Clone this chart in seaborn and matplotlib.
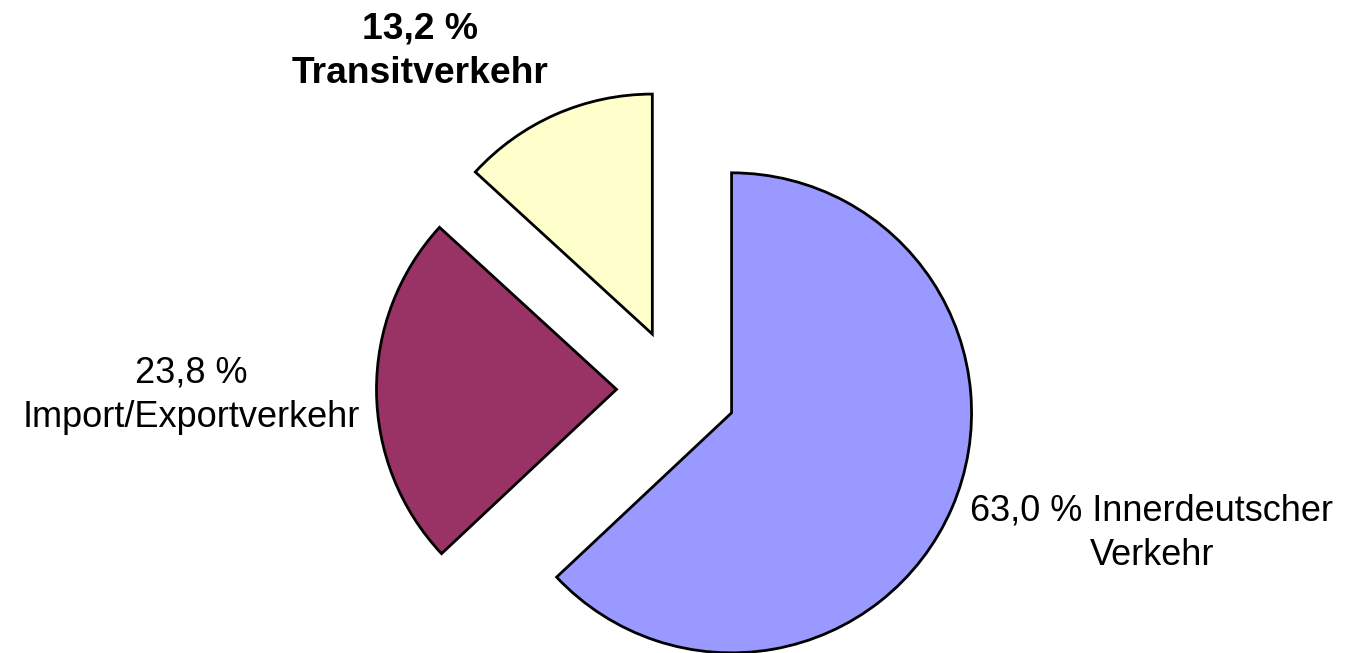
import matplotlib
matplotlib.use("Agg")
import matplotlib.pyplot as plt
import seaborn as sns

# shares of traffic (percent), clockwise from 12 o'clock
categories = ["Innerdeutscher Verkehr", "Import/Exportverkehr", "Transitverkehr"]
shares = [63.0, 23.8, 13.2]
colors = ["#9999FF", "#993366", "#FFFFCC"]
explode = [0.25, 0.25, 0.25]

label_texts = [
    "63,0 % Innerdeutscher\nVerkehr",
    "23,8 %\nImport/Exportverkehr",
    "13,2 %\nTransitverkehr",
]
label_weights = ["normal", "normal", "bold"]
label_sizes = [26, 26, 26.8]
# last-line baseline positions in figure pixels (x, y from top)
label_px = [(1152, 565), (191, 427), (420, 83)]

W, H = 1348, 653
R_PX = 240.0            # pie radius in pixels
CX, CY = 676.5, 389.0   # pie centre in pixels (from top)

sns.set_style("white")
plt.rcParams["font.family"] = ["Liberation Sans", "DejaVu Sans"]

fig = plt.figure(figsize=(W / 100, H / 100), dpi=100)
ax = fig.add_axes([0, 0, 1, 1])

ax.pie(shares, colors=colors, explode=explode, startangle=90,
       counterclock=False, radius=1.0,
       wedgeprops={"edgecolor": "black", "linewidth": 2.0})

ax.set_xlim(-CX / R_PX, (W - CX) / R_PX)
ax.set_ylim((CY - H) / R_PX, CY / R_PX)
ax.set_aspect("auto")
ax.axis("off")

for txt, wt, fs, (px, py) in zip(label_texts, label_weights, label_sizes, label_px):
    fig.text(px / W, 1 - py / H, txt, ha="center", va="baseline",
             multialignment="center", fontsize=fs, fontweight=wt,
             linespacing=1.36, color="black")

fig.savefig("out.png", dpi=100, facecolor="white")
